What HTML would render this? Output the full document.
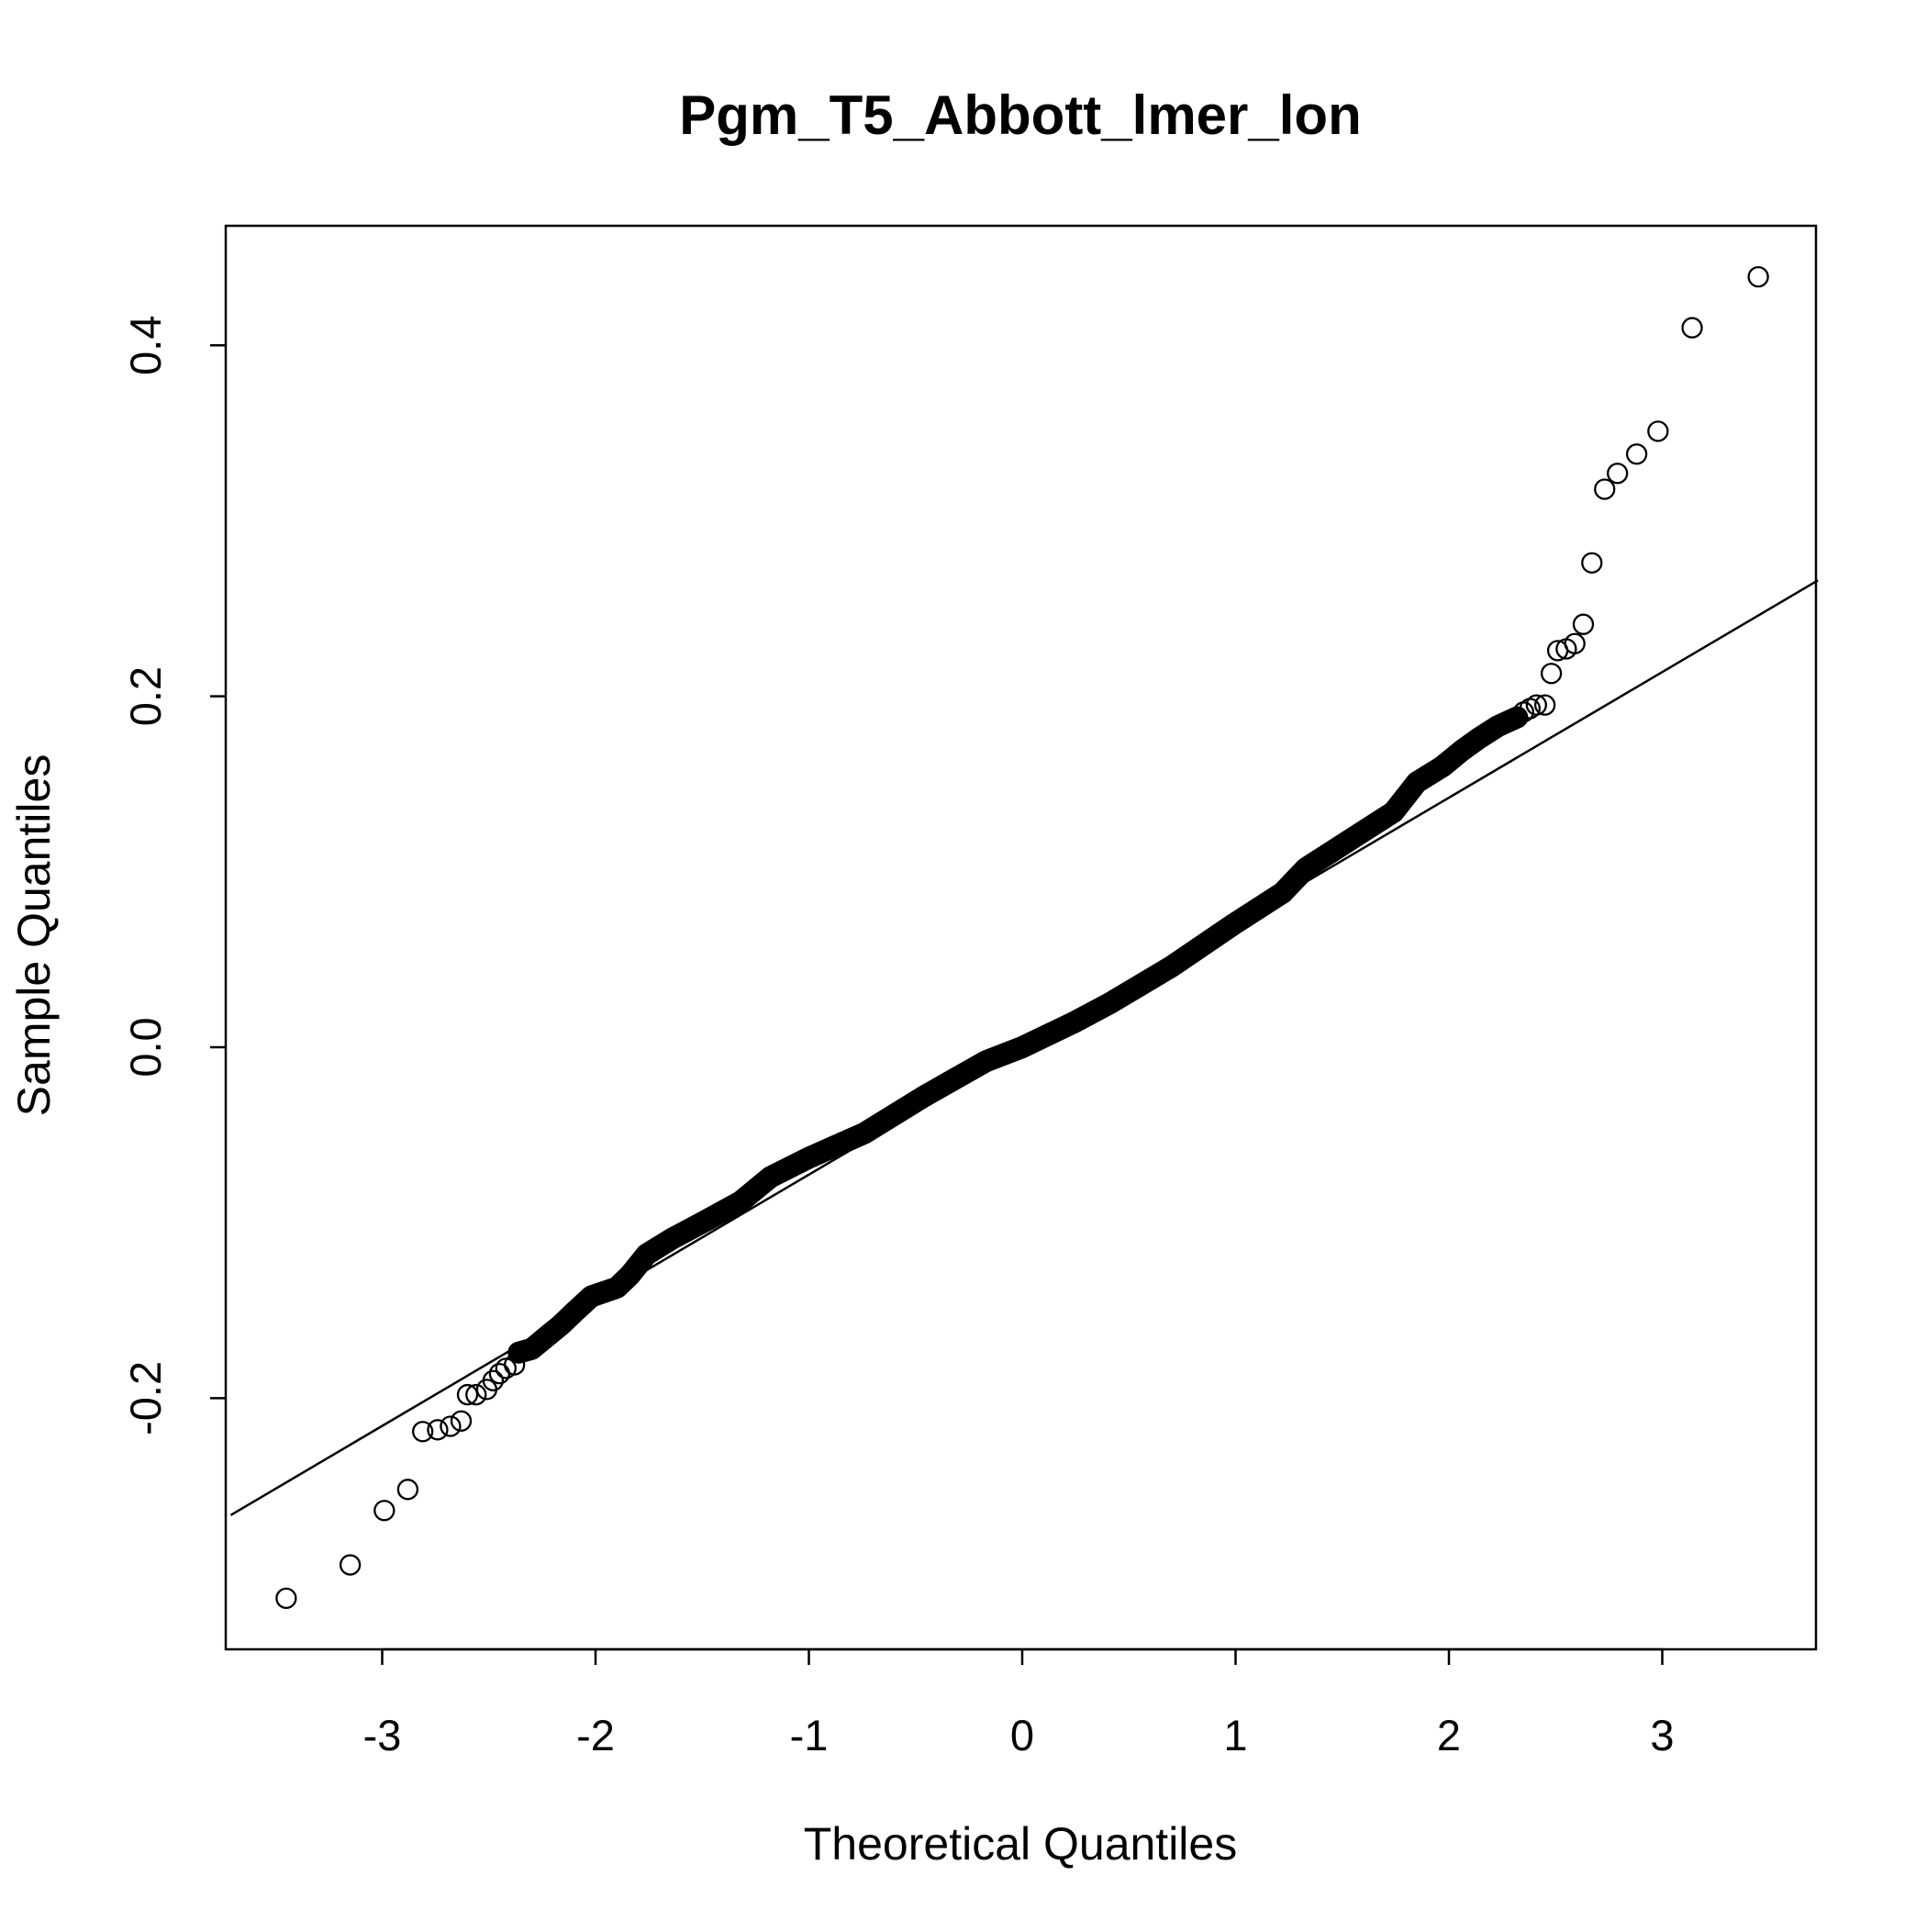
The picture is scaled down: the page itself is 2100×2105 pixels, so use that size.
<!DOCTYPE html>
<html><head><meta charset="utf-8"><style>
html,body{margin:0;padding:0;background:#fff}
svg text{font-family:"Liberation Sans",Arial,sans-serif;fill:#000}
</style></head><body>
<svg id="chart" width="2100" height="2100" viewBox="0 0 2100 2100" xmlns="http://www.w3.org/2000/svg">
<rect width="2100" height="2100" fill="#fff"/>
<text x="1112" y="146" font-size="60" font-weight="bold" text-anchor="middle">Pgm_T5_Abbott_lmer_lon</text>
<rect x="246" y="246" width="1733" height="1551" fill="none" stroke="#000" stroke-width="2.5"/>
<g id="xaxis"></g>
<g id="yaxis"></g>
<text x="1112" y="2026" font-size="50" text-anchor="middle">Theoretical Quantiles</text>
<text transform="translate(54,1019) rotate(-90)" font-size="50" text-anchor="middle">Sample Quantiles</text>
<g id="marks"></g>
</svg>
<script>
const xTicks = [-3,-2,-1,0,1,2,3];
const yTicks = [-0.2,0.0,0.2,0.4];
const yTickLabels = ["-0.2","0.0","0.2","0.4"];
const theoretical = [-3.45,-3.15,-2.99,-2.88,-2.81,-2.74,-2.68,-2.63,-2.60,-2.56,-2.51,-2.48,-2.45,-2.42,-2.38,
 -2.36,-2.30,-2.27,-2.22,-2.16,-2.10,-2.02,-1.90,-1.84,-1.76,-1.64,-1.47,-1.32,-1.18,-1.0,-0.74,-0.46,-0.17,0,0.24,0.41,0.70,0.99,1.22,1.33,1.56,1.74,1.85,1.97,2.06,2.14,2.23,2.32,
 2.35,2.38,2.41,2.45,2.48,2.51,2.55,2.59,2.63,2.67,2.73,2.79,2.88,2.98,3.14,3.45];
const sample = [-0.314,-0.295,-0.264,-0.252,-0.219,-0.218,-0.216,-0.213,-0.198,-0.198,-0.195,-0.19,-0.186,-0.183,-0.181,
 -0.174,-0.172,-0.169,-0.164,-0.158,-0.151,-0.142,-0.137,-0.130,-0.118,-0.109,-0.098,-0.088,-0.074,-0.063,-0.049,-0.028,-0.008,0,0.014,0.025,0.046,0.070,0.088,0.102,0.120,0.134,0.151,0.160,0.169,0.176,0.183,0.188,
 0.191,0.193,0.195,0.195,0.213,0.226,0.227,0.230,0.241,0.276,0.318,0.327,0.338,0.351,0.410,0.439];
const lineIntercept = -0.001, lineSlope = 0.0716;
const denseStart = 15, denseEnd = 48;

const NS="http://www.w3.org/2000/svg";
const X = v => 1114 + v*232.5;
const Y = v => 1141 - v*1912;
function mk(tag, attrs, parent){const e=document.createElementNS(NS,tag);for(const k in attrs)e.setAttribute(k,attrs[k]);parent.appendChild(e);return e;}
const xa=document.getElementById('xaxis'), ya=document.getElementById('yaxis'), mg=document.getElementById('marks');
mk('line',{x1:X(xTicks[0]),x2:X(xTicks[xTicks.length-1]),y1:1797,y2:1797,stroke:'#000','stroke-width':2.5},xa);
xTicks.forEach(t=>{
  const l=mk('line',{x1:X(t),x2:X(t),y1:1797,y2:1814,stroke:'#000','stroke-width':2.5},xa);
  
  
  const tx=mk('text',{x:X(t),y:1907,'font-size':47,'text-anchor':'middle'},xa);
  tx.textContent=String(t);
  
  
});
yTicks.forEach((t,i)=>{
  const l=mk('line',{x1:229,x2:246,y1:Y(t),y2:Y(t),stroke:'#000','stroke-width':2.5},ya);
  
  
  const tx=mk('text',{transform:`translate(175,${Y(t)}) rotate(-90)`,'font-size':47,'text-anchor':'middle'},ya);
  tx.textContent=yTickLabels[i];
  
  
});
const x0=-3.71, x1=3.73;
const rl=mk('line',{x1:X(x0),y1:Y(lineIntercept+lineSlope*x0),x2:X(x1),y2:Y(lineIntercept+lineSlope*x1),stroke:'#000','stroke-width':2.5},mg);


let pts=[];
for(let i=denseStart;i<denseEnd;i++)pts.push(X(theoretical[i])+','+Y(sample[i]));
const band=mk('polyline',{points:pts.join(' '),fill:'none',stroke:'#000','stroke-width':24,'stroke-linejoin':'round','stroke-linecap':'round'},mg);


theoretical.forEach((t,i)=>{
  const c=mk('circle',{cx:X(t),cy:Y(sample[i]),r:10.5,fill:'none',stroke:'#000','stroke-width':2.3},mg);
  
  
});
</script>
</body></html>
